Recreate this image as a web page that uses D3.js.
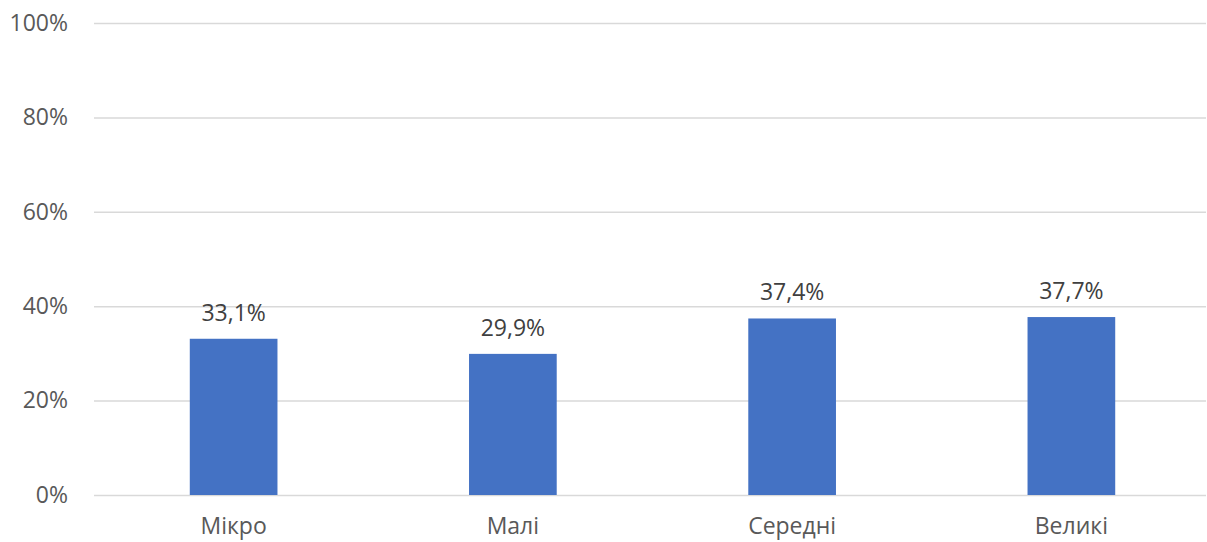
<!DOCTYPE html>
<html>
<head>
<meta charset="utf-8">
<script src="https://cdn.jsdelivr.net/npm/d3@7"></script>
<style>
  body { margin: 0; background: #fff; }
  svg { display: block; font-family: "Open Sans", sans-serif; }
</style>
</head>
<body>
<svg id="chart" width="1207" height="542"></svg>
<script>
(function(){
    var categories = ["Мікро", "Малі", "Середні", "Великі"],
        values = [0.331, 0.299, 0.374, 0.377],
        labels = ["33,1%", "29,9%", "37,4%", "37,7%"],
        yTicks = [0, 0.2, 0.4, 0.6, 0.8, 1.0];

    var left = 94, right = 1206, top = 23, bottom = 495;
    var svg = d3.select("#chart");

    // categories are a bit wider than the visible grid
    var x = d3.scaleBand()
        .domain(categories)
        .range([left, 1211])
        .paddingInner(0.686)
        .paddingOuter(0.343);

    var y = d3.scaleLinear()
        .domain([0, 1])
        .range([bottom, top]);

    var yAxis = d3.axisLeft(y)
        .tickValues(yTicks)
        .tickSize(-(right - left))
        .tickPadding(26)
        .tickFormat(function(d){ return Math.round(d * 100) + "%"; });

    svg.append("g")
        .attr("transform", "translate(" + left + ",0)")
        .call(yAxis)
        .call(function(g){
            g.select(".domain").remove();
            g.selectAll(".tick line").attr("stroke", "#d9d9d9").attr("stroke-width", 1.5);
            g.selectAll(".tick text")
                .attr("fill", "#595959")
                .style("font-size", "23px")
                .style("font-family", "'Open Sans', sans-serif");
        });

    svg.selectAll("rect.bar")
        .data(values)
        .enter()
        .append("rect")
        .attr("class", "bar")
        .attr("fill", "#4472c4")
        .attr("x", function(d,i){ return x(categories[i]); })
        .attr("width", x.bandwidth())
        .attr("y", function(d){ return y(d); })
        .attr("height", function(d){ return bottom - y(d); });

    svg.selectAll("text.val")
        .data(values)
        .enter()
        .append("text")
        .attr("class", "val")
        .attr("text-anchor", "middle")
        .attr("fill", "#404040")
        .style("font-size", "23px")
        .attr("x", function(d,i){ return x(categories[i]) + x.bandwidth() / 2; })
        .attr("y", function(d){ return y(d) - 18; })
        .text(function(d,i){ return labels[i]; });

    svg.selectAll("text.cat")
        .data(categories)
        .enter()
        .append("text")
        .attr("class", "cat")
        .attr("text-anchor", "middle")
        .attr("fill", "#595959")
        .style("font-size", "23px")
        .attr("x", function(d){ return x(d) + x.bandwidth() / 2; })
        .attr("y", 534)
        .text(function(d){ return d; });
})();
</script>
</body>
</html>
